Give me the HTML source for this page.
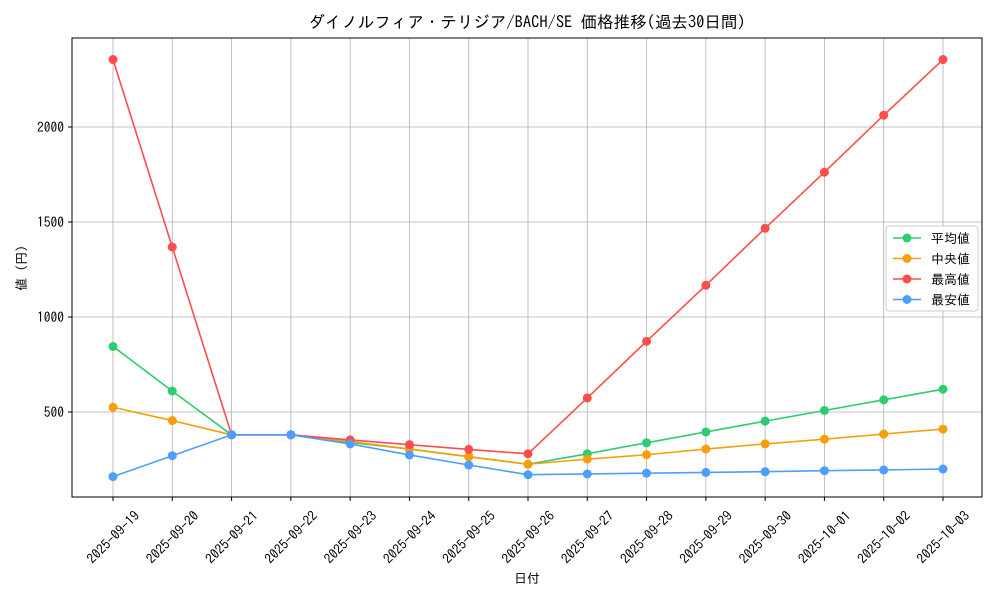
<!DOCTYPE html>
<html><head><meta charset="utf-8"><style>
body{margin:0;background:#fff;font-family:"IPAGothic","Noto Sans CJK JP",sans-serif;}
</style></head><body>
<svg id="c" width="1000" height="600" xmlns="http://www.w3.org/2000/svg" font-family="IPAGothic,'Noto Sans CJK JP',sans-serif"></svg>
<script>
const categories=["2025-09-19","2025-09-20","2025-09-21","2025-09-22","2025-09-23","2025-09-24","2025-09-25","2025-09-26","2025-09-27","2025-09-28","2025-09-29","2025-09-30","2025-10-01","2025-10-02","2025-10-03"];
const meanVals=[845,610,380,380,340,305,265,225,280,338,395,452,508,564,620];
const medianVals=[525,455,380,380,345,305,265,225,252,275,305,332,357,384,410];
const maxVals=[2355,1368,380,380,353,328,303,280,574,872,1167,1467,1762,2062,2355];
const minVals=[160,270,380,380,332,274,221,170,174,178,182,186,191,195,200];
const yTicks=[500,1000,1500,2000];
const seriesNames=["平均値","中央値","最高値","最安値"];
const seriesColors=["#2ecc71","#f5a00a","#ff4d4d","#4d9eff"];
const seriesData=[meanVals,medianVals,maxVals,minVals];
const seriesKeys=["mean","median","max","min"];

const svg=document.getElementById('c');const NS="http://www.w3.org/2000/svg";
const L=72,R=982,T=38,B=497;
const x=i=>113+i*(943-113)/(categories.length-1);
const y=v=>507-v*0.19;
function el(t,a,p){const e=document.createElementNS(NS,t);for(const k in a)e.setAttribute(k,a[k]);(p||svg).appendChild(e);return e;}
categories.forEach((c,i)=>{
 const g=el('line',{x1:x(i),x2:x(i),y1:T,y2:B,stroke:'#b0b0b0','stroke-width':0.8});
 
 
 el('line',{x1:x(i),x2:x(i),y1:B,y2:B+4,stroke:'#000'});
 const t=el('text',{x:0,y:5,'font-size':13.5,'text-anchor':'middle',transform:`translate(${x(i)},${537}) rotate(-45)`});
 t.textContent=c;
 
 
});
yTicks.forEach(v=>{
 const g=el('line',{x1:L,x2:R,y1:y(v),y2:y(v),stroke:'#b0b0b0','stroke-width':0.8});
 
 
 el('line',{x1:L-4,x2:L,y1:y(v),y2:y(v),stroke:'#000'});
 const t=el('text',{x:L-8,y:y(v)+5,'font-size':13.5,'text-anchor':'end'});
 t.textContent=v;
 
 
});
const frame=el('rect',{x:L,y:T,width:R-L,height:B-T,fill:'none',stroke:'#000','stroke-width':1});


seriesData.forEach((d,s)=>{
 const g=el('g',{});
 
 
 el('polyline',{points:d.map((v,i)=>x(i)+','+y(v)).join(' '),fill:'none',stroke:seriesColors[s],'stroke-width':1.6},g);
 d.forEach((v,i)=>{const p=el('circle',{cx:x(i),cy:y(v),r:4.5,fill:seriesColors[s]},g);
 
 });
});
const lg=el('g',{});


el('rect',{x:886,y:226,width:92,height:85,rx:3,fill:'#fff','fill-opacity':0.85,stroke:'#ccc'},lg);
seriesNames.forEach((n,s)=>{
 const yy=238+s*20.5;
 const e=el('g',{},lg);
 
 
 el('line',{x1:893,x2:921,y1:yy,y2:yy,stroke:seriesColors[s],'stroke-width':1.6},e);
 el('circle',{cx:907,cy:yy,r:4.5,fill:seriesColors[s]},e);
 const t=el('text',{x:931,y:yy+5,'font-size':13},e);t.textContent=n;
});
const title=el('text',{x:527,y:28,'font-size':16.5,'text-anchor':'middle'});
title.textContent="ダイノルフィア・テリジア/BACH/SE 価格推移(過去30日間)";


const xt=el('text',{x:527,y:583,'font-size':13,'text-anchor':'middle'});
xt.textContent="日付";


const yt=el('text',{x:0,y:0,'font-size':13,'text-anchor':'middle',transform:'translate(26,268) rotate(-90)'});
yt.textContent="値 (円)";


</script>
</body></html>
